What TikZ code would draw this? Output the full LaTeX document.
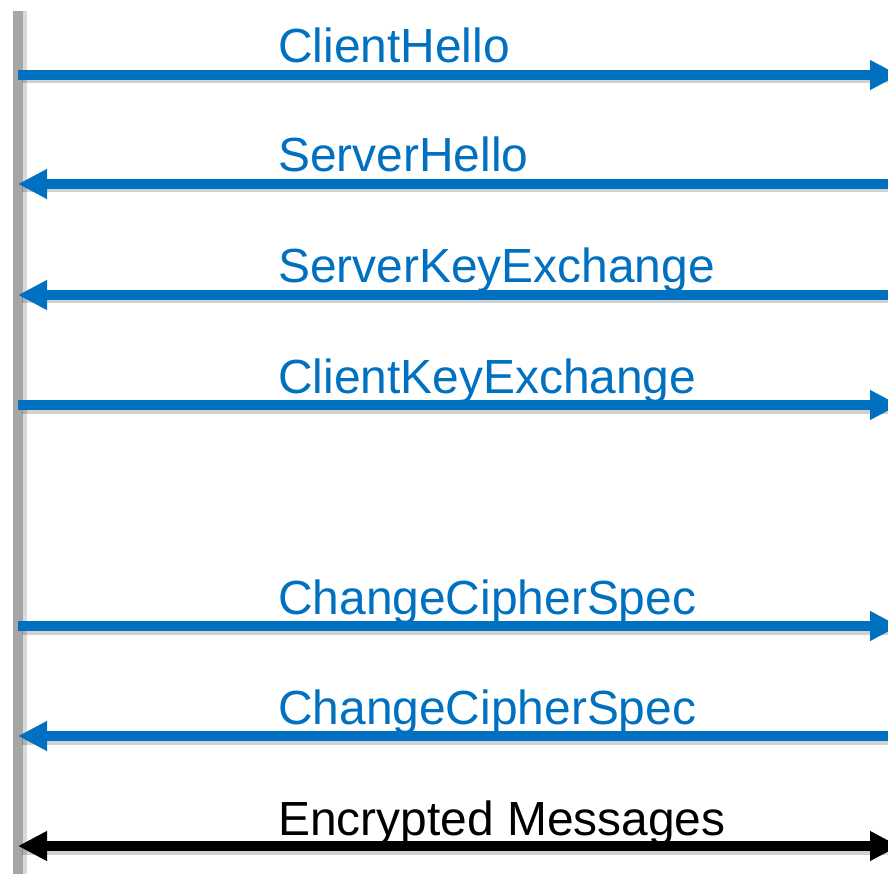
\documentclass[tikz,border=0pt]{standalone}
\usepackage{fontspec}
\setmainfont{Liberation Sans}
\usetikzlibrary{arrows.meta}
\definecolor{msgblue}{HTML}{0070C0}
\definecolor{lifegray}{HTML}{A6A6A6}
\tikzset{
  msg/.style={line width=9.5pt, draw=msgblue, -{Triangle[length=29pt,width=28pt]}},
  enc/.style={line width=9.5pt, draw=black, {Triangle[length=29pt,width=28pt]}-{Triangle[length=29pt,width=28pt]}},
  lbl/.style={anchor=base west, inner sep=0pt, font=\fontsize{47.9}{50}\selectfont, text=msgblue},
  shadowline/.style={line width=9pt, draw=black, opacity=0.18},
}
\begin{document}
\begin{tikzpicture}[x=1pt,y=-1pt]
\useasboundingbox (0,0) rectangle (888,874);
\clip (0,0) rectangle (888,874);
\fill[white] (0,0) rectangle (888,874);
% lifeline
\coordinate (lt) at (18,11);
\coordinate (lb) at (18,880);
\draw[line width=10pt, black, opacity=0.15] ([xshift=4pt]lt) -- ([xshift=4pt]lb);
\draw[line width=10pt, lifegray] (lt) -- (lb);
% coordinates
\foreach \n/\y in {1/75,2/184,3/295,4/405,5/626,6/736,7/846}{
  \coordinate (L\n) at (18,\y);
  \coordinate (R\n) at (899,\y);
  \coordinate (Rs\n) at (899,\y+4);
  \coordinate (Ls\n) at (22,\y+4);
}
% shadows
\foreach \n in {1,...,7}{\draw[shadowline] (Ls\n) -- (Rs\n);}
% arrows
\draw[msg] (L1) -- (R1);
\draw[msg] (R2) -- (L2);
\draw[msg] (R3) -- (L3);
\draw[msg] (L4) -- (R4);
\draw[msg] (L5) -- (R5);
\draw[msg] (R6) -- (L6);
\draw[enc] (L7) -- (R7);
% labels
\node[lbl] (t1) at (278,63) {ClientHello};
\node[lbl] (t2) at (278,172) {ServerHello};
\node[lbl] (t3) at (278,283) {ServerKeyExchange};
\node[lbl] (t4) at (278,393) {ClientKeyExchange};
\node[lbl] (t5) at (278,614) {ChangeCipherSpec};
\node[lbl] (t6) at (278,724) {ChangeCipherSpec};
\node[lbl, text=black] (t7) at (278,835) {Encrypted Messages};
\end{tikzpicture}
\end{document}
